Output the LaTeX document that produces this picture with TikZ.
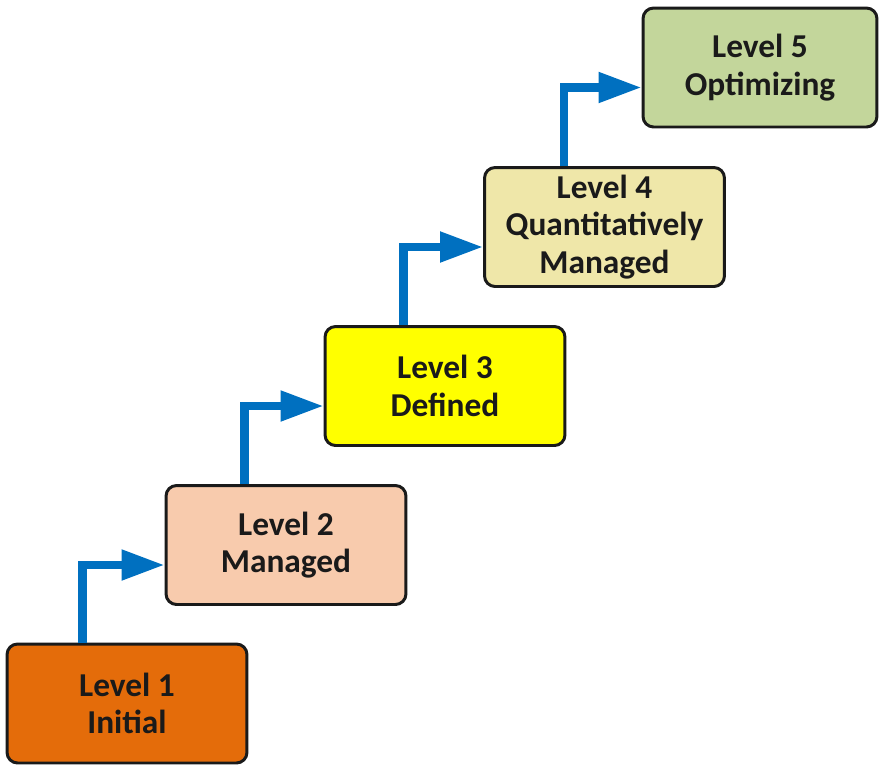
\documentclass[tikz,border=0pt]{standalone}
\usepackage{fontspec}
\setmainfont{Carlito}
\usepackage{tikz}
\usetikzlibrary{arrows.meta,positioning,calc}
\definecolor{lvone}{HTML}{E46C0A}
\definecolor{lvtwo}{HTML}{F8CBAD}
\definecolor{lvthree}{HTML}{FFFF00}
\definecolor{lvfour}{HTML}{EFE7A9}
\definecolor{lvfive}{HTML}{C3D69B}
\definecolor{edgeblue}{HTML}{0070C0}
\definecolor{bordr}{HTML}{1A1A1A}
\tikzset{
  lvl/.style    = {rectangle, rounded corners=6pt, draw=bordr, line width=1.7pt,
                   minimum width=4.8cm, minimum height=2.38cm, inner sep=0pt,
                   align=center, text=bordr,
                   font=\fontsize{19}{21.5}\selectfont\bfseries},
  stp/.style    = {draw=edgeblue, line width=4.6pt,
                   -{Triangle[length=0.86cm,width=0.58cm]}},
}

\begin{document}
\begin{tikzpicture}[x=0.02cm,y=-0.02cm]
  \useasboundingbox (0,0) rectangle (880,765);
  % levels
  \node[lvl, fill=lvone]   (l1) at (127,703.5) {Level 1\\Initial};
  \node[lvl, fill=lvtwo]   (l2) at (286,545)   {Level 2\\Managed};
  \node[lvl, fill=lvthree] (l3) at (445,386)   {Level 3\\Defined};
  \node[lvl, fill=lvfour]  (l4) at (604.5,227) {Level 4\\Quantitatively\\Managed};
  \node[lvl, fill=lvfive, minimum width=4.68cm] (l5) at (760,67.5) {Level 5\\Optimizing};
  % steps up
  \draw[stp] ([xshift=1.54cm]l1.north west) |- ([yshift=-0.4cm]l2.west);
  \draw[stp] ([xshift=1.6cm]l2.north west)  |- ([yshift=-0.4cm]l3.west);
  \draw[stp] ([xshift=1.6cm]l3.north west)  |- ([yshift=-0.4cm]l4.west);
  \draw[stp] ([xshift=1.62cm]l4.north west) |- ([yshift=-0.4cm]l5.west);
\end{tikzpicture}
\end{document}
